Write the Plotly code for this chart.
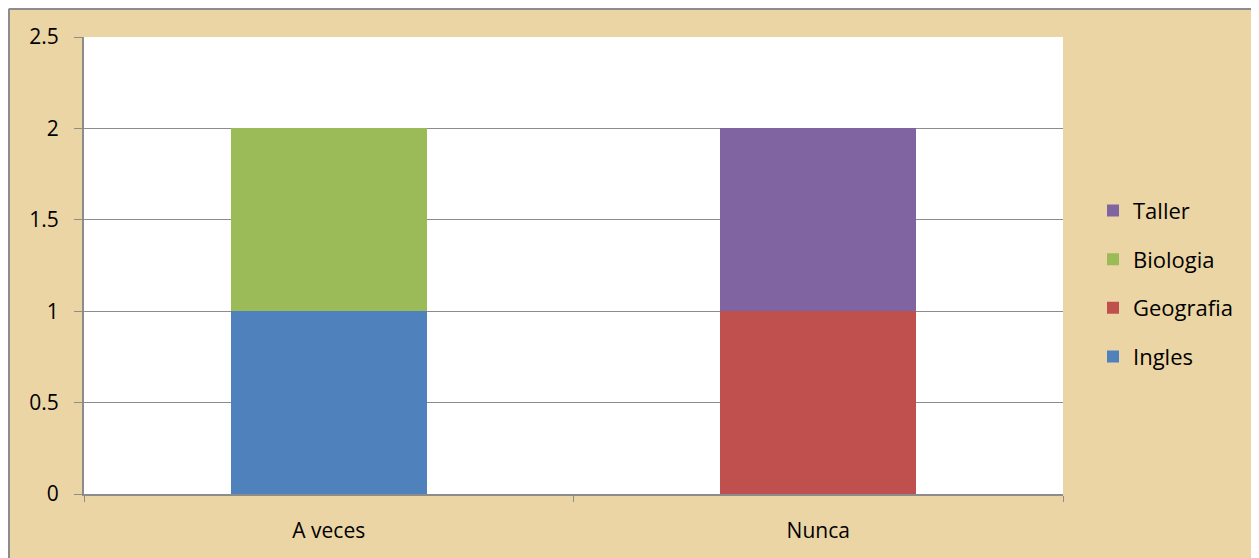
import plotly.graph_objects as go

categories = ["A veces", "Nunca"]
series_names = ["Ingles", "Geografia", "Biologia", "Taller"]
ingles = [1, 0]
geografia = [0, 1]
biologia = [1, 0]
taller = [0, 1]
colors = ["#4F81BD", "#C0504D", "#9BBB59", "#8064A2"]
y_ticks = [0, 0.5, 1, 1.5, 2, 2.5]
y_tick_labels = ["0", "0.5", "1", "1.5", "2", "2.5"]

values = [ingles, geografia, biologia, taller]

fig = go.Figure()
n = len(series_names)
for i, (name, vals, col) in enumerate(zip(series_names, values, colors)):
    fig.add_trace(go.Bar(x=categories, y=vals, name=name, marker=dict(color=col, line=dict(width=0)),
                         legendgroup=name, legendrank=(n - i) * 10))

font_family = "Open Sans, Noto Sans, sans-serif"
L, R, T, B = 76, 204, 29, 72
PW = 1259 - L - R
PH = 558 - T - B
fig.update_layout(
    barmode="stack",
    bargap=0.6,
    width=1259, height=558,
    margin=dict(l=L, r=R, t=T, b=B),
    paper_bgcolor="#ECD5A4",
    plot_bgcolor="#FFFFFF",
    font=dict(family=font_family, size=21, color="#000000"),
    showlegend=True,
    legend=dict(traceorder="grouped", x=(1085 - L) / PW, xanchor="left", y=0.46, yanchor="middle",
                font=dict(size=22), tracegroupgap=17, bgcolor="rgba(0,0,0,0)",
                itemwidth=30),
    xaxis=dict(type="category", showgrid=False, showline=True, linecolor="#8C8C8C", linewidth=2,
               ticks="outside", tickson="boundaries", ticklen=6, tickcolor="#8C8C8C", tickwidth=1,
               ticklabelstandoff=17, tickfont=dict(size=21)),
    yaxis=dict(range=[0, 2.5], tickvals=y_ticks, ticktext=y_tick_labels, showgrid=True,
               gridcolor="#8C8C8C", gridwidth=1, showline=True, linecolor="#8C8C8C", linewidth=2,
               ticks="outside", ticklen=8, tickcolor="#8C8C8C", tickwidth=1,
               ticklabelstandoff=11, zeroline=False, tickfont=dict(size=21)),
    shapes=[
        dict(type="line", xref="paper", yref="paper", x0=(1 - L) / PW, x1=(1259 - L) / PW + 0.01,
             y0=1 + (T - 1) / PH, y1=1 + (T - 1) / PH, line=dict(color="#8C8C8C", width=2)),
        dict(type="line", xref="paper", yref="paper", x0=(1 - L) / PW, x1=(1 - L) / PW,
             y0=1 + (T - 1) / PH, y1=-0.3, line=dict(color="#8C8C8C", width=2)),
    ],
)

fig.write_html("out.html")
